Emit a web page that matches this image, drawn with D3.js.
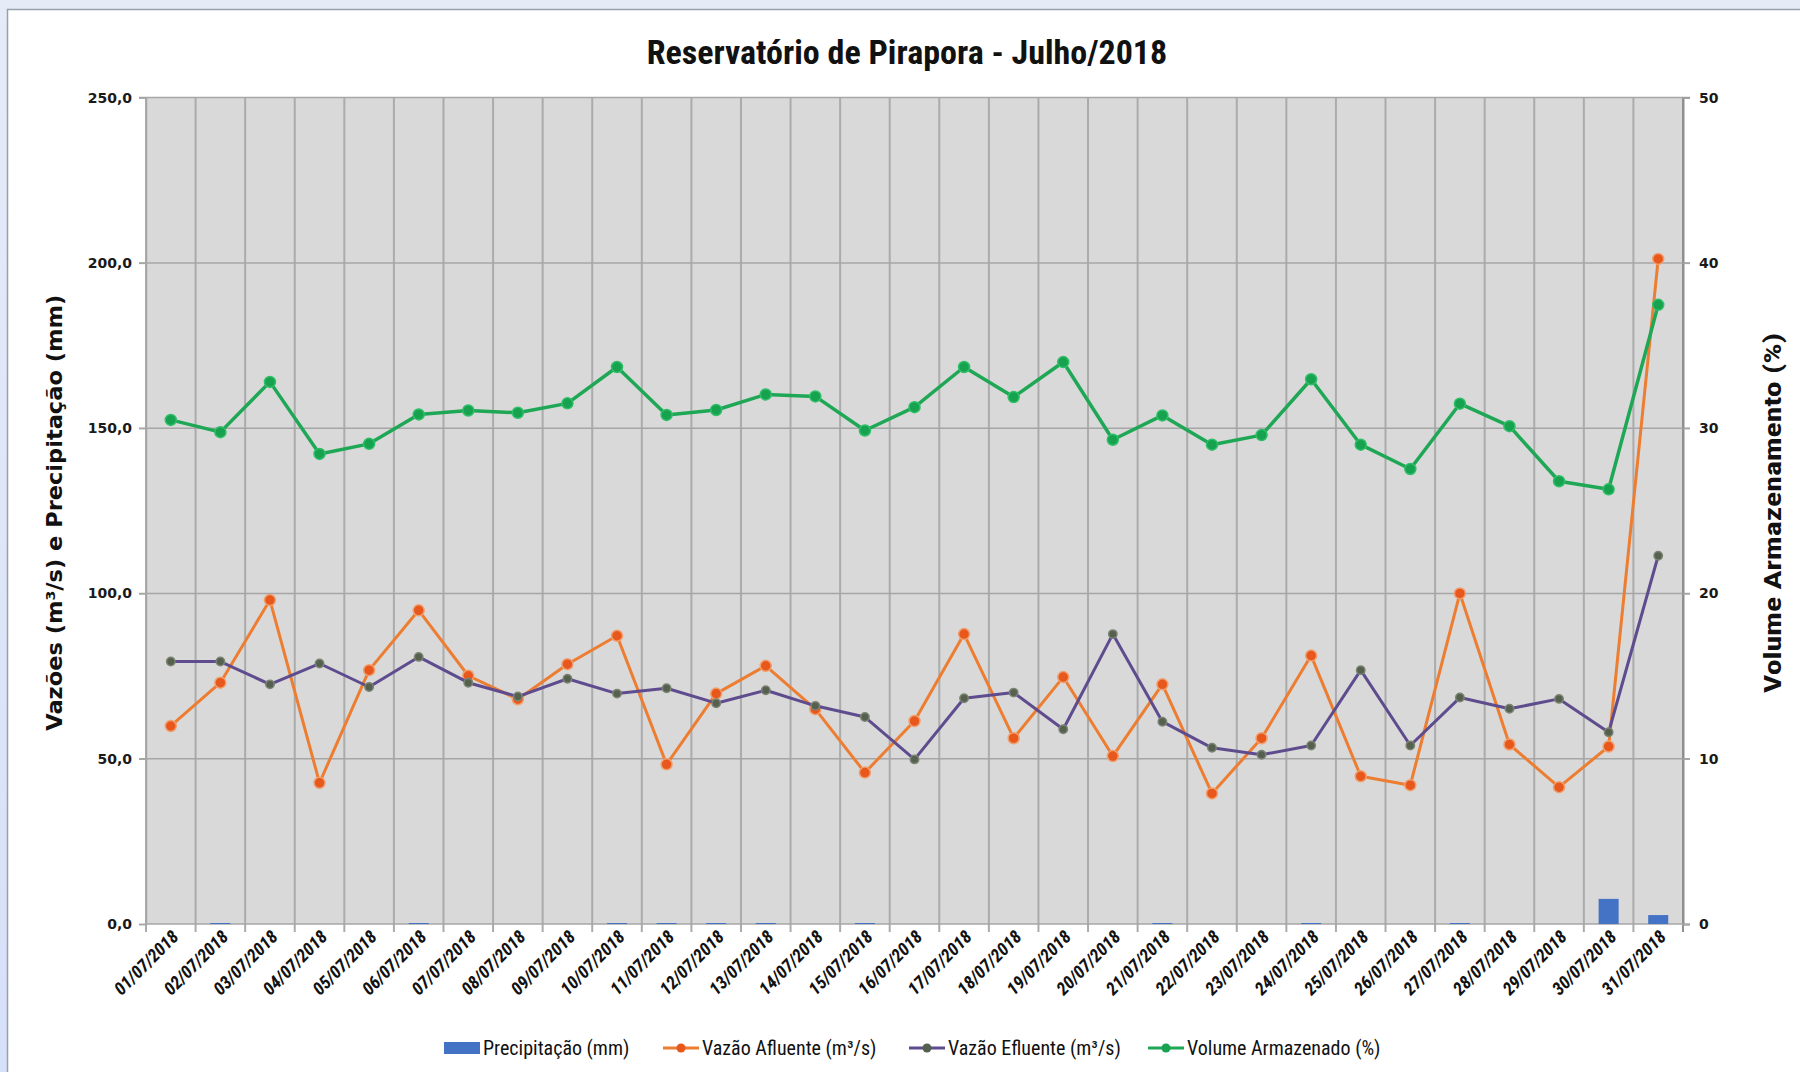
<!DOCTYPE html>
<html>
<head>
<meta charset="utf-8">
<script src="https://cdn.jsdelivr.net/npm/d3@7"></script>
<style>
  html, body { margin: 0; padding: 0; background: #ffffff; }
  svg { display: block; }
</style>
</head>
<body>
<script>
// ---------- DATA ----------
const categories = ["01/07/2018","02/07/2018","03/07/2018","04/07/2018","05/07/2018","06/07/2018","07/07/2018","08/07/2018","09/07/2018","10/07/2018","11/07/2018","12/07/2018","13/07/2018","14/07/2018","15/07/2018","16/07/2018","17/07/2018","18/07/2018","19/07/2018","20/07/2018","21/07/2018","22/07/2018","23/07/2018","24/07/2018","25/07/2018","26/07/2018","27/07/2018","28/07/2018","29/07/2018","30/07/2018","31/07/2018"];
const precipitacao = [0,0.3,0,0,0,0.3,0,0,0,0.3,0.3,0.3,0.3,0,0.3,0,0,0,0,0,0.3,0,0,0.3,0,0,0.3,0,0,7.6,2.7];
const vazaoAfluente = [59.9,73.0,98.0,42.7,76.8,94.9,75.1,68.0,78.6,87.2,48.3,69.7,78.1,65.0,45.8,61.4,87.7,56.2,74.7,50.8,72.5,39.5,56.2,81.2,44.7,42.0,100.0,54.3,41.4,53.7,201.2];
const vazaoEfluente = [79.4,79.4,72.5,78.8,71.7,80.8,73.0,68.8,74.2,69.7,71.3,66.8,70.7,66.0,62.6,49.8,68.3,70.0,58.9,87.7,61.2,53.3,51.2,54.0,76.8,54.0,68.5,65.1,68.1,58.0,111.4];
const volumeArmazenado = [30.5,29.76,32.8,28.44,29.05,30.83,31.07,30.93,31.5,33.7,30.8,31.1,32.04,31.92,29.86,31.27,33.7,31.88,34.0,29.3,30.77,29.0,29.58,32.96,29.0,27.53,31.48,30.12,26.79,26.3,37.46];
const leftTicks = [0,50,100,150,200,250];
const rightTicks = [0,10,20,30,40,50];
const seriesNames = ["Precipitação (mm)","Vazão Afluente (m³/s)","Vazão Efluente (m³/s)","Volume Armazenado (%)"];
const titleText = "Reservatório de Pirapora - Julho/2018";
const leftTitle = "Vazões (m³/s) e Precipitação (mm)";
const rightTitle = "Volume Armazenamento (%)";

// ---------- LAYOUT ----------
const W = 1800, H = 1072;
const plot = {left: 146, right: 1683, top: 97.6, bottom: 924};
const narrow = "'Liberation Sans Narrow','Arial Narrow','Roboto Condensed',sans-serif";
const wide = "'DejaVu Sans',Verdana,sans-serif";

const colors = {
  precip: "#4472C4",
  afl: "#ED7D31", aflMarker: "#E8581C",
  efl: "#5E4C8E", eflMarker: "#55604F",
  vol: "#1EA755", volMarker: "#16A24E"
};

const svg = d3.select("body").append("svg").attr("width", W).attr("height", H);

// outer frame
const defs = svg.append("defs");
const lg = defs.append("linearGradient").attr("id","bgGrad").attr("x1","0").attr("y1","0").attr("x2","0").attr("y2","1");
lg.append("stop").attr("offset","0%").attr("stop-color","#e6ebf8");
lg.append("stop").attr("offset","100%").attr("stop-color","#d6e0f7");
svg.append("rect").attr("width", W).attr("height", H).attr("fill","url(#bgGrad)");
svg.append("rect").attr("x", 7.5).attr("y", 9.5).attr("width", W).attr("height", H)
  .attr("fill","#ffffff").attr("stroke","#9aa0aa").attr("stroke-width",1.5);

// scales
const x = d3.scaleBand().domain(categories).range([plot.left, plot.right]).padding(0);
const yL = d3.scaleLinear().domain([0,250]).range([plot.bottom, plot.top]);
const yR = d3.scaleLinear().domain([0,50]).range([plot.bottom, plot.top]);
const cx = d => x(d) + x.bandwidth()/2;

// plot background
svg.append("rect").attr("x", plot.left).attr("y", plot.top)
  .attr("width", plot.right - plot.left).attr("height", plot.bottom - plot.top)
  .attr("fill","#d9d9d9");

// vertical gridlines at category boundaries
const bounds = categories.map(c => x(c)).concat([plot.right]);
svg.append("g").selectAll("line").data(bounds).join("line")
  .attr("x1", d => d).attr("x2", d => d)
  .attr("y1", plot.top).attr("y2", plot.bottom + 8)
  .attr("stroke", (d,i) => i === bounds.length-1 ? "#8f8f8f" : "#ababab")
  .attr("stroke-width", 2);

// horizontal gridlines
svg.append("g").selectAll("line").data(leftTicks.filter(t => t > 0)).join("line")
  .attr("x1", plot.left - 7).attr("x2", plot.right + 7)
  .attr("y1", d => yL(d)).attr("y2", d => yL(d))
  .attr("stroke","#a6a6a6").attr("stroke-width",1.5);

// left axis
const fmtL = v => d3.format(".1f")(v).replace(".", ",");
const gL = svg.append("g").attr("transform", `translate(${plot.left},0)`)
  .call(d3.axisLeft(yL).tickValues(leftTicks).tickFormat(fmtL).tickSize(7).tickPadding(7));
gL.select(".domain").attr("stroke","#a6a6a6").attr("stroke-width",1.5);
gL.selectAll(".tick line").attr("stroke","#a6a6a6").attr("stroke-width",1.5);
gL.selectAll(".tick text").attr("font-family", wide).attr("font-weight","bold")
  .attr("font-size", 14).attr("fill","#1a1a1a");

// right axis
const gR = svg.append("g").attr("transform", `translate(${plot.right},0)`)
  .call(d3.axisRight(yR).tickValues(rightTicks).tickFormat(d3.format("d")).tickSize(7).tickPadding(9));
gR.select(".domain").attr("stroke","#8f8f8f").attr("stroke-width",2);
gR.selectAll(".tick line").attr("stroke","#a6a6a6").attr("stroke-width",1.5);
gR.selectAll(".tick text").attr("font-family", wide).attr("font-weight","bold")
  .attr("font-size", 14).attr("fill","#1a1a1a");

// bottom axis line
svg.append("line").attr("x1", plot.left).attr("x2", plot.right)
  .attr("y1", plot.bottom).attr("y2", plot.bottom)
  .attr("stroke","#a6a6a6").attr("stroke-width",1.5);

// x labels
svg.append("g").selectAll("text").data(categories).join("text")
  .attr("transform", d => `translate(${cx(d) + 9},${plot.bottom + 14}) rotate(-45)`)
  .attr("text-anchor","end")
  .attr("font-family", narrow).attr("font-weight","bold").attr("font-style","italic")
  .attr("font-size", 18).attr("fill","#111")
  .text(d => d);

// precipitation bars
const barW = 20;
svg.append("g").selectAll("rect").data(categories).join("rect")
  .attr("x", d => cx(d) - barW/2)
  .attr("y", (d,i) => yL(precipitacao[i]))
  .attr("width", barW)
  .attr("height", (d,i) => plot.bottom - yL(precipitacao[i]))
  .attr("fill", colors.precip);

// lines
function drawSeries(values, scale, lineColor, markerFill, markerStroke, r, sw) {
  const pts = categories.map((c,i) => [cx(c), scale(values[i])]);
  svg.append("path").attr("d", d3.line()(pts))
    .attr("fill","none").attr("stroke", lineColor).attr("stroke-width", sw)
    .attr("stroke-linejoin","round");
  svg.append("g").selectAll("circle").data(pts).join("circle")
    .attr("cx", d => d[0]).attr("cy", d => d[1]).attr("r", r)
    .attr("fill", markerFill).attr("stroke", markerStroke).attr("stroke-width", 1.5);
}
drawSeries(vazaoAfluente, yL, colors.afl, colors.aflMarker, "#f0a070", 5.5, 3);
drawSeries(vazaoEfluente, yL, colors.efl, colors.eflMarker, "#7b8473", 4.2, 3);
drawSeries(volumeArmazenado, yR, colors.vol, colors.volMarker, "#2fbf68", 5.5, 3.5);

// title
svg.append("text").attr("x", 907).attr("y", 64).attr("text-anchor","middle")
  .attr("font-family", narrow).attr("font-weight","bold").attr("font-size", 34)
  .attr("fill","#111").text(titleText);

// axis titles
svg.append("text").attr("transform", `translate(62,${(plot.top+plot.bottom)/2 + 2}) rotate(-90)`)
  .attr("text-anchor","middle").attr("font-family", wide).attr("font-weight","bold")
  .attr("font-size", 21).attr("textLength", 436).attr("lengthAdjust","spacingAndGlyphs")
  .attr("fill","#111").text(leftTitle);
svg.append("text").attr("transform", `translate(1781,513) rotate(-90)`)
  .attr("text-anchor","middle").attr("font-family", narrow).attr("font-weight","bold")
  .attr("font-size", 23).attr("textLength", 360).attr("lengthAdjust","spacingAndGlyphs")
  .attr("fill","#111").text(rightTitle);

// legend
const legY = 1048;
const legend = svg.append("g");
const legItems = [
  {name: seriesNames[0], x: 444, type: "bar", color: colors.precip},
  {name: seriesNames[1], x: 663, type: "line", color: colors.afl, mk: colors.aflMarker},
  {name: seriesNames[2], x: 909, type: "line", color: colors.efl, mk: colors.eflMarker},
  {name: seriesNames[3], x: 1148, type: "line", color: colors.vol, mk: colors.volMarker}
];
legItems.forEach(it => {
  if (it.type === "bar") {
    legend.append("rect").attr("x", it.x).attr("y", legY - 6).attr("width", 36).attr("height", 12)
      .attr("fill", it.color);
  } else {
    legend.append("line").attr("x1", it.x).attr("x2", it.x + 36).attr("y1", legY).attr("y2", legY)
      .attr("stroke", it.color).attr("stroke-width", 3);
    legend.append("circle").attr("cx", it.x + 18).attr("cy", legY).attr("r", 4.5).attr("fill", it.mk);
  }
  legend.append("text").attr("x", it.x + 39).attr("y", legY + 7)
    .attr("font-family", narrow).attr("font-size", 20).attr("fill","#111").text(it.name);
});
</script>
</body>
</html>
